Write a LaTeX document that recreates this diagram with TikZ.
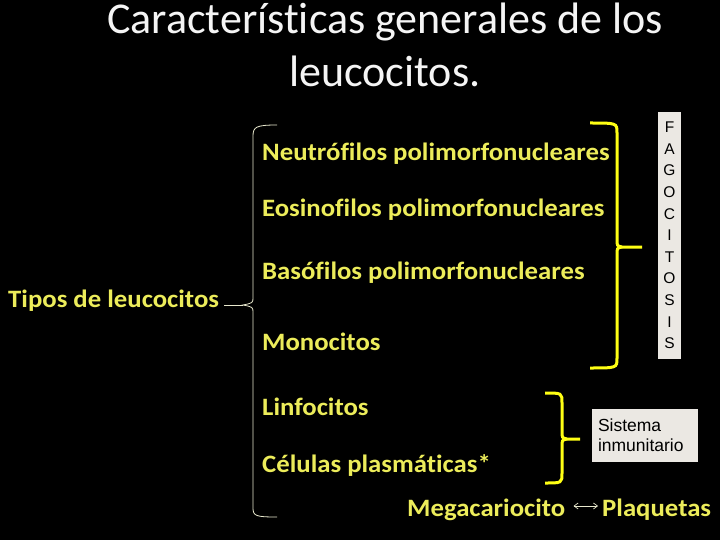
\documentclass[tikz,border=0pt]{standalone}
\usepackage{fontspec}
\setmainfont{Carlito}[Ligatures=NoCommon]
\newfontfamily\itemfont{Carlito}[FakeStretch=1.07,Ligatures=NoCommon]
\newfontfamily\boxfont{Liberation Sans}
\usetikzlibrary{positioning,arrows.meta}
\definecolor{leuyellow}{RGB}{236,236,90}
\definecolor{braceyellow}{RGB}{255,255,20}
\definecolor{bracepale}{RGB}{232,232,205}
\definecolor{boxgray}{RGB}{235,232,227}
\definecolor{titlegray}{RGB}{245,245,245}
\begin{document}
\begin{tikzpicture}[x=1pt,y=-1pt,
    item/.style={anchor=base west,inner sep=0pt,text=leuyellow,
      font=\itemfont\fontsize{25}{29}\selectfont\bfseries},
    notebox/.style={fill=boxgray,text=black,inner sep=0pt,
      font=\boxfont\fontsize{17.5}{20}\selectfont},
    ybrace/.style={braceyellow,line width=3pt},
    pbrace/.style={bracepale,line width=0.8pt}]
     % Definitions
     \def\xi{262}
     \fill[black] (0,0) rectangle (720,540);
     \useasboundingbox (0,0) rectangle (720,540);
     % Title
     \node[text=titlegray,align=center,font=\fontsize{44}{53}\selectfont,anchor=base]
       (title) at (385,87) {Características generales de los\\leucocitos.};
     % Leucocyte types
     \node[item] (tipos) at (8,307) {Tipos de leucocitos};
     \foreach \name/\y/\txt in {neu/161/Neutrófilos polimorfonucleares,
       eos/217/Eosinofilos polimorfonucleares,bas/279/Basófilos polimorfonucleares,
       mono/350/Monocitos,linf/415/Linfocitos,plas/472/Células plasmáticas*} {
      \node[item] (\name) at (\xi,\y) {\txt};
     };
     \node[item] (mega) at (407,516) {Megacariocito};
     \node[item] (plaq) at (602,516) {Plaquetas};
     \draw[{Straight Barb[length=4pt,width=6pt]}-{Straight Barb[length=4pt,width=6pt]},bracepale,line width=0.7pt]
       ([xshift=8pt,yshift=10pt]mega.base east) -- ([xshift=-4pt,yshift=10pt]plaq.base west);
     % Left brace
     \coordinate (tip) at (243,305);
     \draw[pbrace] (tip -| tipos.east) ++(5,0) -- (tip);
     \draw[pbrace] (277,125) .. controls (256,125) and (253,127) .. (253,136) -- (253,297)
       .. controls (253,303) .. (tip) .. controls (253,307) .. (253,313) -- (253,508)
       .. controls (253,516) and (256,517) .. (277,517);
     % Yellow braces
     \foreach \xl/\xv/\xt/\yt/\ym/\yb in {590/617/642/123/247/368,545/562/580/393/439/483} {
      \draw[ybrace] (\xl,\yt) .. controls (\xv,\yt) .. (\xv,\yt+10) -- (\xv,\ym-8)
        .. controls (\xv,\ym-1) .. (\xv+5,\ym) -- (\xt,\ym);
      \draw[ybrace] (\xv+5,\ym) .. controls (\xv,\ym+1) .. (\xv,\ym+8) -- (\xv,\yb-10)
        .. controls (\xv,\yb) .. (\xl,\yb);
     };
     % Boxes
     \node[notebox,minimum width=23pt,minimum height=247pt,align=center,
       font=\boxfont\fontsize{15.5}{21.6}\selectfont] (fago) at (669.5,235.5)
       {F\\A\\G\\O\\C\\I\\T\\O\\S\\I\\S};
     \node[notebox,minimum width=106pt,minimum height=53pt,align=left,
       text width=94pt] (inmune) at (645,435.5) {Sistema\\inmunitario};
    \end{tikzpicture}
\end{document}
